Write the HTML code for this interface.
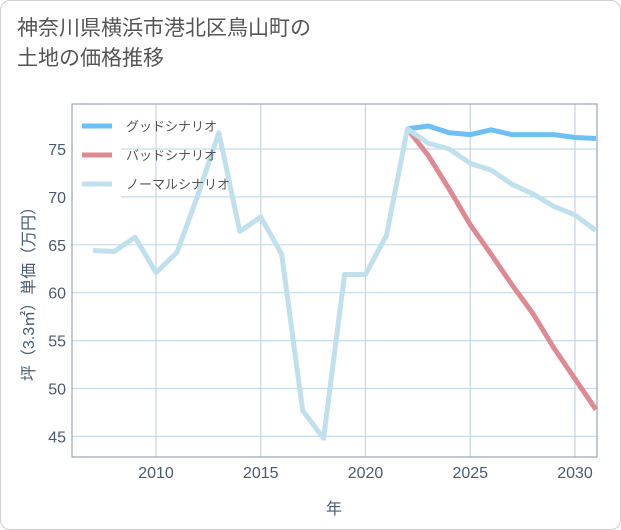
<!DOCTYPE html>
<html><head><meta charset="utf-8"><style>
body{margin:0;background:#fff;font-family:"Liberation Sans","Noto Sans CJK JP",sans-serif}
.card{position:absolute;left:0;top:0;width:619px;height:528px;border:1px solid #cfcfcf;border-radius:10px;background:#fff}
.title{position:absolute;left:17px;top:14px;font-size:21px;line-height:30px;color:#555}
</style></head><body>
<div class="card"></div>
<div class="title">神奈川県横浜市港北区鳥山町の<br>土地の価格推移</div>
<svg id="c" width="621" height="530" style="position:absolute;left:0;top:0"></svg>
<script>
const years=[2007,2008,2009,2010,2011,2012,2013,2014,2015,2016,2017,2018,2019,2020,2021,2022,2023,2024,2025,2026,2027,2028,2029,2030,2031];
const normal=[64.4,64.3,65.8,62.1,64.2,70.2,76.7,66.4,67.9,64.0,47.7,44.8,61.9,61.9,66.0,77.1,75.6,75.0,73.5,72.8,71.3,70.3,69.0,68.1,66.5];
const goodYears=[2022,2023,2024,2025,2026,2027,2028,2029,2030,2031];
const good=[77.1,77.4,76.7,76.5,77.0,76.5,76.5,76.5,76.2,76.1];
const bad=[77.1,74.3,70.8,67.1,64.0,60.8,57.8,54.2,51.0,47.8];
const xTicks=[2010,2015,2020,2025,2030];
const yTicks=[45,50,55,60,65,70,75];
const L=72,R=597,T=104,B=457;
const x=v=>156+(v-2010)*20.95;
const y=v=>149+(75-v)*9.58;
const s=document.getElementById('c');const NS='http://www.w3.org/2000/svg';
function mk(t,a,p){const e=document.createElementNS(NS,t);for(const k in a)e.setAttribute(k,a[k]);(p||s).appendChild(e);return e;}
yTicks.forEach(v=>{const g=mk('line',{x1:L,x2:R,y1:y(v),y2:y(v),stroke:'#c5dcea','stroke-width':1.2});


const t=mk('text',{x:66,y:y(v)+6,'text-anchor':'end','font-size':16,fill:'#4a5a70'});t.textContent=v;

});
xTicks.forEach(v=>{const g=mk('line',{x1:x(v),x2:x(v),y1:T,y2:B,stroke:'#c8d4e0','stroke-width':1.2});


const t=mk('text',{x:x(v),y:478,'text-anchor':'middle','font-size':16,fill:'#4a5a70'});t.textContent=v;

});
const fr=mk('rect',{x:L,y:T,width:R-L,height:B-T,fill:'none',stroke:'#9aa5b0','stroke-width':1.2});


const lb=mk('rect',{x:L+1,y:110,width:48,height:95,fill:'#fff'});


function line(xs,ys,col,name){const p=mk('polyline',{points:xs.map((v,i)=>x(v)+','+y(ys[i])).join(' '),fill:'none',stroke:col,'stroke-width':5,'stroke-linejoin':'round'});

}
line(goodYears,good,'#6ec0f4','good-scenario-line');
line(goodYears,bad,'#de8a92','bad-scenario-line');
line(years,normal,'#bfe0ec','normal-scenario-line');
const leg=[['グッドシナリオ','#6ec0f4'],['バッドシナリオ','#de8a92'],['ノーマルシナリオ','#bfe0ec']];
leg.forEach((d,i)=>{const yy=126+i*29;const l=mk('line',{x1:82,x2:112,y1:yy,y2:yy,stroke:d[1],'stroke-width':5});


const t=mk('text',{x:126,y:yy+5,'font-size':13,fill:'#555'});t.textContent=d[0];

});
const xt=mk('text',{x:334,y:514,'text-anchor':'middle','font-size':16,fill:'#4a5a70'});xt.textContent='年';


const yt=mk('text',{x:0,y:0,'text-anchor':'middle','font-size':16,fill:'#4a5a70',transform:'translate(34,290) rotate(-90)'});yt.textContent='坪（3.3㎡）単価（万円）';


</script>
</body></html>
